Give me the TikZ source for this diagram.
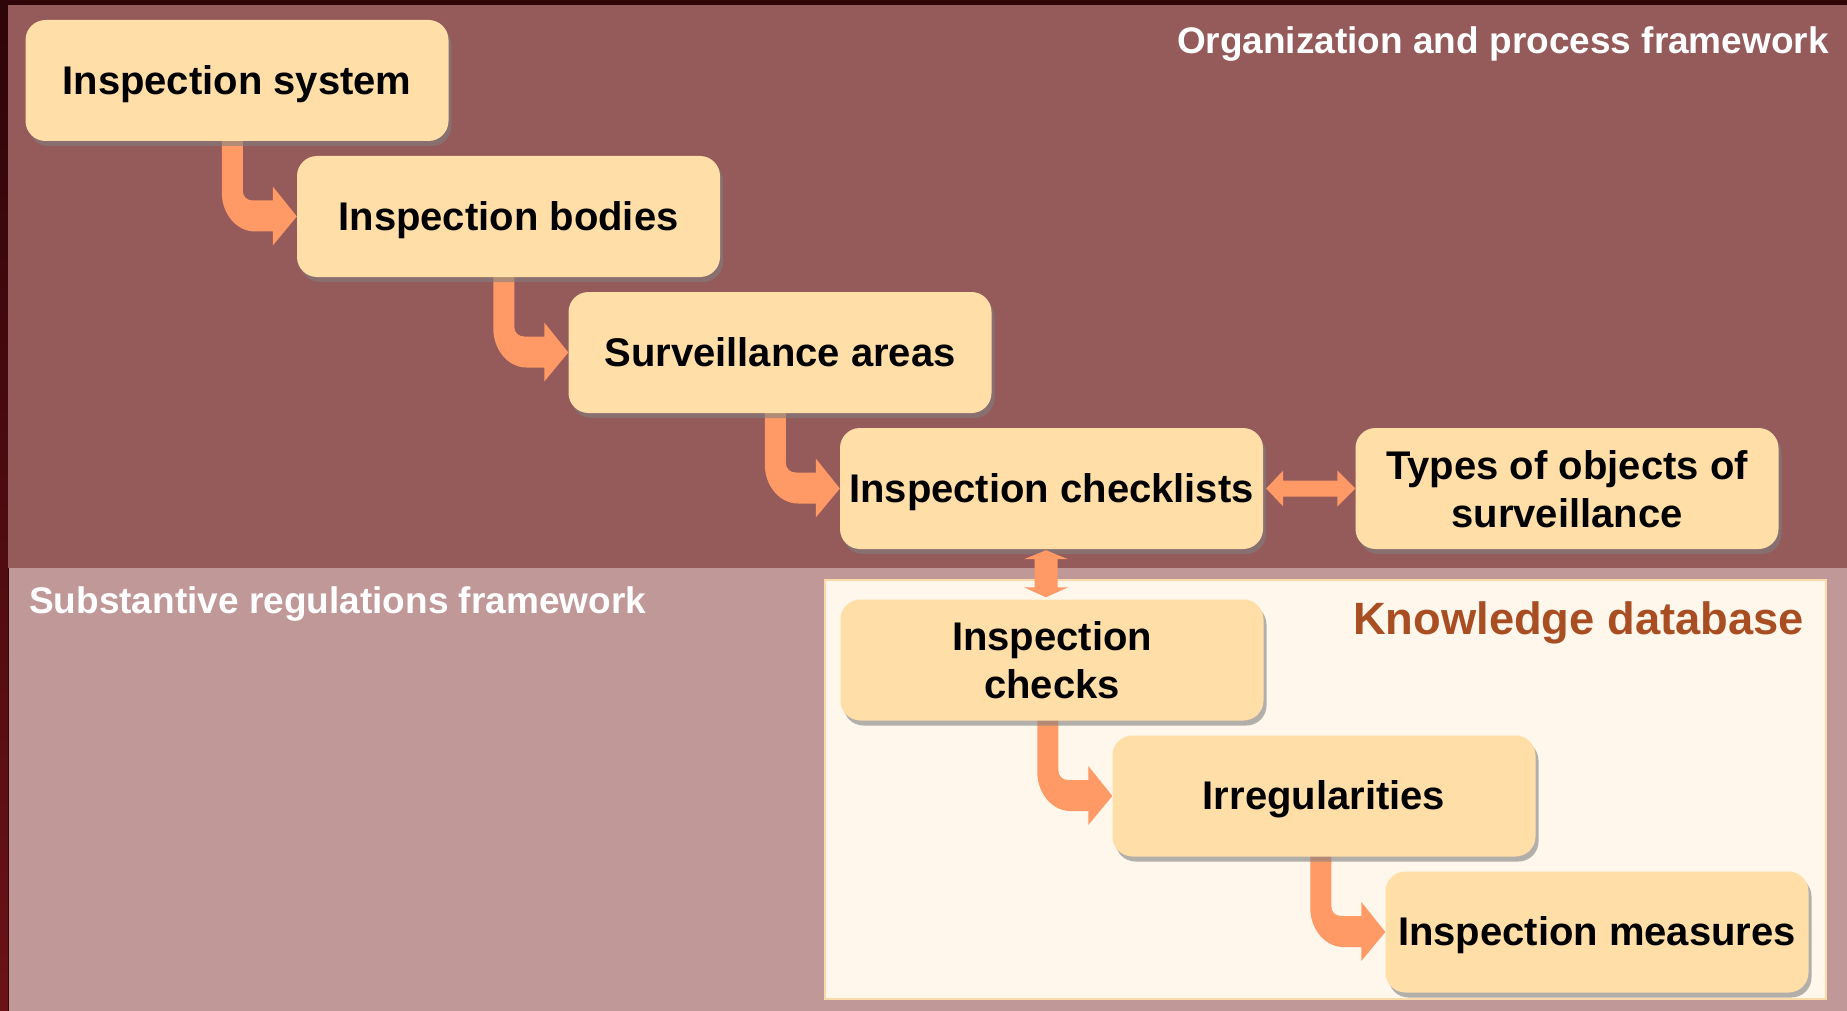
\documentclass[tikz,border=0pt]{standalone}
\usepackage{fontspec}
\setmainfont{Liberation Sans}
\usetikzlibrary{calc,shadows}
\definecolor{frametop}{HTML}{2E0508}
\definecolor{framebot}{HTML}{6B1218}
\definecolor{topbg}{HTML}{955A5A}
\definecolor{botbg}{HTML}{C19898}
\definecolor{panelbg}{HTML}{FFF6EC}
\definecolor{panelln}{HTML}{FCD9A8}
\definecolor{boxfill}{HTML}{FFDEA8}
\definecolor{arrowc}{HTML}{FF9966}
\definecolor{kdb}{HTML}{A84E22}
\pgfdeclarelayer{bg}
\pgfdeclarelayer{arr}
\pgfsetlayers{bg,arr,main}
\newcommand\elbowarrow[2]{%
  \path ($(#2.west)+(-75,0)$) coordinate (ea) ($(#2.west)+(-54,0)$) coordinate (eb);
  \fill[arrowc] (ea |- #1.center) -- ($(#2.west)+(-75,-24)$)
    .. controls ($(#2.west)+(-75,-2.5)$) and ($(#2.west)+(-60,15)$) .. ($(#2.west)+(-42,15)$)
    -- ($(#2.west)+(-24,15)$) -- ($(#2.west)+(-24,29)$) -- (#2.west)
    -- ($(#2.west)+(-24,-30)$) -- ($(#2.west)+(-24,-16)$) -- ($(#2.west)+(-44,-16)$)
    .. controls ($(#2.west)+(-50,-16)$) and ($(#2.west)+(-54,-20)$) .. ($(#2.west)+(-54,-26)$)
    -- (eb |- #1.center) -- cycle;}
\begin{document}
\begin{tikzpicture}[x=1pt,y=-1pt,
  stepbox/.style={rounded corners=20pt, fill=boxfill, minimum width=423pt, minimum height=121pt,
    inner sep=2pt, align=center, font=\bfseries\fontsize{40}{48}\selectfont,
    drop shadow={shadow xshift=3pt, shadow yshift=-5pt, fill=gray, opacity=.6}},
  oneline/.style={stepbox, text height=36.2pt, text depth=8.5pt},
  titletext/.style={text=white, font=\bfseries\fontsize{37}{44}\selectfont, inner sep=0pt}]
\useasboundingbox (0,0) rectangle (1847,1011);
\begin{pgfonlayer}{bg}
  \fill[frametop] (0,0) rectangle (1847,1011);
  \shade[top color=frametop, bottom color=framebot] (0,5) rectangle (8,1011);
  \fill[topbg] (8,5) rectangle (1847,568);
  \fill[botbg] (9,568) rectangle (1847,1011);
  \filldraw[fill=panelbg, draw=panelln, line width=2pt] (825,580) rectangle (1826,999);
\end{pgfonlayer}

\node[titletext, anchor=base east] (t1) at (1829,54) {Organization and process framework};
\node[titletext, anchor=base west] (t2) at (29,613) {Substantive regulations framework};
\node[anchor=base east, inner sep=0pt, text=kdb, font=\bfseries\fontsize{45.3}{52}\selectfont] (t3) at (1804,634) {Knowledge database};

\node[oneline] (b1) at (237,80.5) {Inspection system};
\node[oneline] (b2) at (508.5,216.5) {Inspection bodies};
\node[oneline] (b3) at (780,352.5) {Surveillance areas};
\node[oneline] (b4) at (1051.5,488.5) {Inspection checklists};
\node[stepbox] (b5) at (1567,488.5) {\rule{0pt}{31pt}Types of objects of\\surveillance};
\node[stepbox] (b6) at (1052,660) {Inspection\\checks};
\node[oneline] (b7) at (1324,796) {Irregularities};
\node[oneline] (b8) at (1597,932) {Inspection measures};

\begin{pgfonlayer}{arr}
  \elbowarrow{b1}{b2}
  \elbowarrow{b2}{b3}
  \elbowarrow{b3}{b4}
  \elbowarrow{b6}{b7}
  \elbowarrow{b7}{b8}
\end{pgfonlayer}

\path ($(b4.east)+(3,0)$) coordinate (hl) (b5.west) coordinate (hr);
\fill[arrowc] (hl) -- ($(hl)+(17,-18)$) -- ($(hl)+(17,-8)$) -- ($(hr)+(-18,-8)$) -- ($(hr)+(-18,-18)$)
  -- (hr) -- ($(hr)+(-18,18)$) -- ($(hr)+(-18,8)$) -- ($(hl)+(17,8)$) -- ($(hl)+(17,18)$) -- cycle;

\path ($(b4.south)+(-5.5,1)$) coordinate (vt) ($(b6.north)+(-6,-2)$) coordinate (vb);
\fill[arrowc] (vt) -- ($(vt)+(22,9)$) -- ($(vt)+(11.5,9)$) -- ($(vb)+(11.5,-10)$) -- ($(vb)+(22,-10)$)
  -- (vb) -- ($(vb)+(-22,-10)$) -- ($(vb)+(-11.5,-10)$) -- ($(vt)+(-11.5,9)$) -- ($(vt)+(-22,9)$) -- cycle;
\end{tikzpicture}
\end{document}
